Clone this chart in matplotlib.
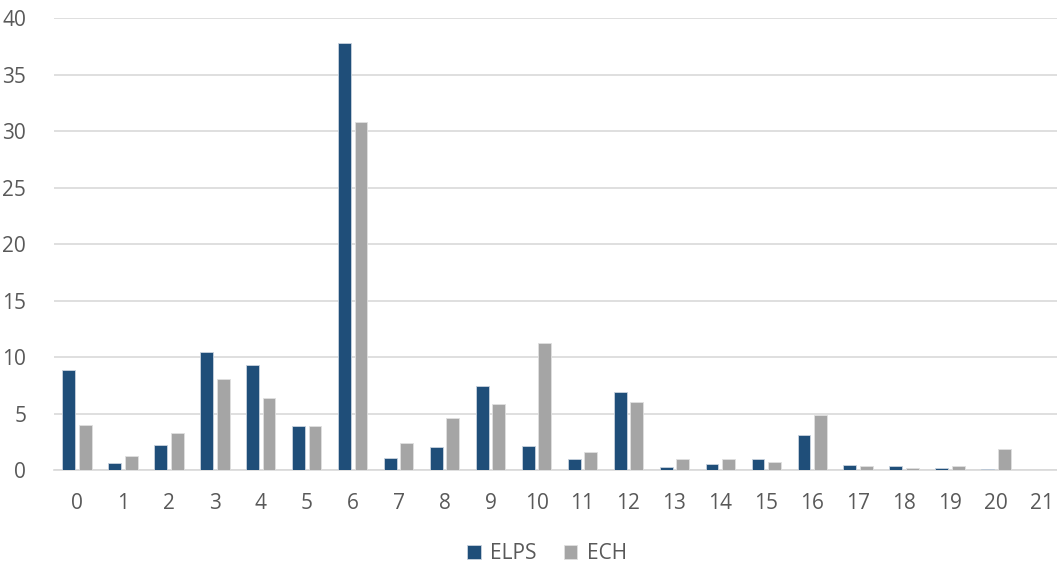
import numpy as np
import matplotlib.pyplot as plt

categories = [str(i) for i in range(22)]
elps = [8.85, 0.65, 2.25, 10.5, 9.35, 3.92, 37.8, 1.1, 2.06, 7.46, 2.18,
        0.97, 6.9, 0.32, 0.56, 0.97, 3.12, 0.47, 0.38, 0.23, 0.14, 0]
ech = [4.0, 1.24, 3.27, 8.05, 6.4, 3.92, 30.85, 2.4, 4.63, 5.87, 11.3,
       1.62, 6.02, 0.97, 1.0, 0.7, 4.9, 0.38, 0.2, 0.38, 1.92, 0]

plt.rcParams['font.family'] = ['Open Sans', 'DejaVu Sans']

fig = plt.figure(figsize=(10.57, 5.65), dpi=100)
ax = fig.add_axes([54 / 1057, 1 - 470.3 / 565, 1 - 54 / 1057, 452 / 565])

x = np.arange(len(categories))
w = 0.28
ax.bar(x - 0.18, elps, w, color='#1F4E79', edgecolor='#C9D3DE', linewidth=0.6,
       label='ELPS', zorder=3)
ax.bar(x + 0.18, ech, w, color='#A5A5A5', edgecolor='#E0E0E0', linewidth=0.6,
       label='ECH', zorder=3)

ax.set_ylim(0, 40)
ax.set_yticks(range(0, 41, 5))
ax.set_xlim(-0.5, 21.5 - 8 / 46)
ax.set_xticks(x)
ax.set_xticklabels(categories)

ax.grid(axis='y', color='#D9D9D9', linewidth=1.2, zorder=0)
for s in ['top', 'right', 'left']:
    ax.spines[s].set_visible(False)
ax.spines['bottom'].set_color('#D9D9D9')
ax.spines['bottom'].set_linewidth(1.2)
ax.tick_params(axis='both', length=0, labelsize=15, labelcolor='#595959')
ax.tick_params(axis='x', pad=16)
ax.tick_params(axis='y', pad=20)

leg = ax.legend(loc='center', bbox_to_anchor=((547 - 54) / 1003, -0.185), ncol=2,
                frameon=False, fontsize=15, handlelength=0.65, handleheight=0.65,
                handletextpad=0.45, columnspacing=1.3)
for t in leg.get_texts():
    t.set_color('#595959')

fig.savefig('out.png', dpi=100)
